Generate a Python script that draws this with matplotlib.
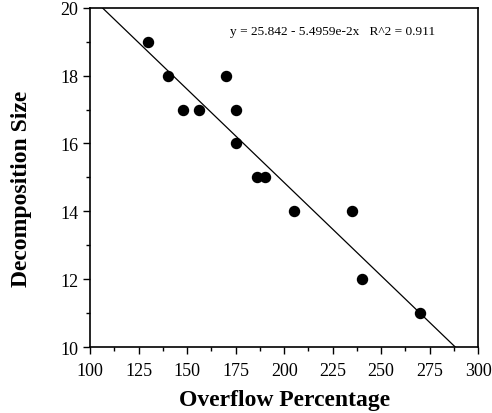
import numpy as np
import matplotlib.pyplot as plt
from matplotlib.ticker import MultipleLocator

# data
overflow = [130, 140, 148, 156, 170, 175, 175, 186, 190, 205, 235, 240, 270]
decomp_size = [19, 18, 17, 17, 18, 17, 16, 15, 15, 14, 14, 12, 11]

intercept = 25.842
slope = -5.4959e-2
r2 = 0.911

plt.rcParams['font.family'] = ['Liberation Serif', 'DejaVu Serif']

fig = plt.figure(figsize=(4.92, 4.14), dpi=100)
ax = fig.add_axes([0.183, 0.159, 0.789, 0.820])

ax.scatter(overflow, decomp_size, s=52, color='black', zorder=3, clip_on=False)

fit_x = np.array([100, 300])
ax.plot(fit_x, intercept + slope * fit_x, color='black', lw=0.9)

ax.set_xlim(100, 300)
ax.set_ylim(10, 20)
ax.xaxis.set_major_locator(MultipleLocator(25))
ax.xaxis.set_minor_locator(MultipleLocator(12.5))
ax.yaxis.set_major_locator(MultipleLocator(2))
ax.yaxis.set_minor_locator(MultipleLocator(1))
ax.tick_params(which='both', direction='out', width=1, labelsize=13, top=False, right=False)
ax.tick_params(which='major', length=5)
ax.tick_params(which='minor', length=3)
ax.tick_params(axis='x', pad=6)
for sp in ax.spines.values():
    sp.set_linewidth(1.2)

ax.set_xlabel('Overflow Percentage', fontsize=17, fontweight='bold', labelpad=7)
ax.set_ylabel('Decomposition Size', fontsize=17, fontweight='bold')
ax.yaxis.set_label_coords(-0.15, 0.468)

ax.text(0.626, 0.932, 'y = 25.842 - 5.4959e-2x   R^2 = 0.911',
        transform=ax.transAxes, ha='center', va='center', fontsize=9.6)

fig.savefig('out.png', dpi=100)
